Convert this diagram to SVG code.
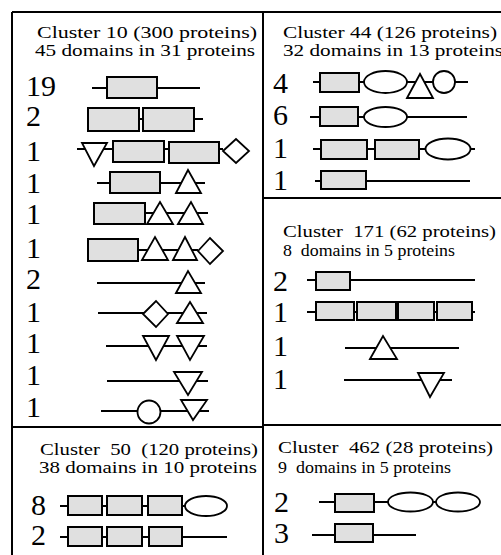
<svg xmlns="http://www.w3.org/2000/svg" width="501" height="555" viewBox="0 0 501 555">
<style>
.bg{fill:#fff}
.fr{stroke:#000;stroke-width:2;fill:none}
.bb{stroke:#000;stroke-width:2;fill:none}
.d{stroke:#000;stroke-width:2;fill:#e0e0e0}
.s{stroke:#000;stroke-width:1.8;fill:#fff}
.h{font-family:"Liberation Serif","Times New Roman",serif;font-size:17px;fill:#000}
.n{font-family:"Liberation Serif","Times New Roman",serif;font-size:30px;fill:#000}
</style>
<rect class="bg" x="0" y="0" width="501" height="555"/>
<g id="frame">
<path class="fr" d="M12 12H501M12 12V555M263 12V555M12 427H263M263 198H501M263 425H501"/>
</g>
<g id="connectors"></g>

<g id="cluster10">
<text class="h" x="37" y="38" textLength="220" lengthAdjust="spacingAndGlyphs">Cluster 10 (300 proteins)</text>
<text class="h" x="35" y="55.5" textLength="220" lengthAdjust="spacingAndGlyphs">45 domains in 31 proteins</text>
<g id="c10r1"><text class="n" x="26" y="96">19</text><path class="bb" d="M92 88H200"/><rect class="d" x="107" y="77" width="50" height="21"/></g>
<g id="c10r2"><text class="n" x="26" y="126">2</text><path class="bb" d="M88 119H203"/><rect class="d" x="88" y="108" width="51" height="23"/><rect class="d" x="143" y="108" width="51" height="23"/></g>
<g id="c10r3"><text class="n" x="26" y="161">1</text><path class="bb" d="M77 149H223"/><polygon class="s" points="82,143 107,143 94,166"/><rect class="d" x="113" y="141" width="51" height="21"/><rect class="d" x="169" y="142" width="50" height="21"/><polygon class="s" points="223,151 236,139 249,151 236,163"/></g>
<g id="c10r4"><text class="n" x="26" y="193">1</text><path class="bb" d="M97 183H205"/><rect class="d" x="110" y="172" width="50" height="21"/><polygon class="s" points="176,193 188,170 201,193"/></g>
<g id="c10r5"><text class="n" x="26" y="224">1</text><path class="bb" d="M94 213H208"/><rect class="d" x="94" y="203" width="51" height="21"/><polygon class="s" points="147,224 160,202 173,224"/><polygon class="s" points="178,224 191,202 203,224"/></g>
<g id="c10r6"><text class="n" x="26" y="258">1</text><path class="bb" d="M138 250H198"/><rect class="d" x="88" y="239" width="50" height="22"/><polygon class="s" points="142,260 155,237 168,260"/><polygon class="s" points="173,260 185,237 197,260"/><polygon class="s" points="198,251 210,238 223,251 210,264"/></g>
<g id="c10r7"><text class="n" x="26" y="289">2</text><path class="bb" d="M97 283H205"/><polygon class="s" points="176,293 188,271 201,293"/></g>
<g id="c10r8"><text class="n" x="26" y="322">1</text><path class="bb" d="M98 313H207"/><polygon class="s" points="143,314 156,301 168,314 156,327"/><polygon class="s" points="177,323 190,302 203,323"/></g>
<g id="c10r9"><text class="n" x="26" y="353">1</text><path class="bb" d="M106 346H207"/><polygon class="s" points="143,336 169,336 156,360"/><polygon class="s" points="177,336 204,336 190,360"/></g>
<g id="c10r10"><text class="n" x="26" y="385">1</text><path class="bb" d="M107 381H208"/><polygon class="s" points="174,372 202,372 188,395"/></g>
<g id="c10r11"><text class="n" x="26" y="417">1</text><path class="bb" d="M101 411H209"/><circle class="s" cx="149" cy="412" r="11.5"/><polygon class="s" points="181,400 207,400 193,420"/></g>
</g>

<g id="cluster50">
<text class="h" x="40" y="455" textLength="218" lengthAdjust="spacingAndGlyphs" xml:space="preserve">Cluster  50  (120 proteins)</text>
<text class="h" x="39" y="473" textLength="218" lengthAdjust="spacingAndGlyphs">38 domains in 10 proteins</text>
<g id="c50r1"><text class="n" x="31" y="515">8</text><path class="bb" d="M60 506H190"/><rect class="d" x="68" y="496" width="34" height="19"/><rect class="d" x="107" y="496" width="35" height="19"/><rect class="d" x="148" y="496" width="34" height="19"/><ellipse class="s" cx="206" cy="506" rx="21" ry="10"/></g>
<g id="c50r2"><text class="n" x="31" y="545">2</text><path class="bb" d="M60 537H227"/><rect class="d" x="68" y="527" width="34" height="19"/><rect class="d" x="107" y="527" width="35" height="19"/><rect class="d" x="149" y="527" width="33" height="19"/></g>
</g>

<g id="cluster44">
<text class="h" x="283" y="38" textLength="214" lengthAdjust="spacingAndGlyphs">Cluster 44 (126 proteins)</text>
<text class="h" x="283" y="55.5" textLength="220" lengthAdjust="spacingAndGlyphs">32 domains in 13 proteins</text>
<g id="c44r1"><text class="n" x="273" y="93">4</text><path class="bb" d="M313 82H468"/><rect class="d" x="320" y="73" width="39" height="19"/><ellipse class="s" cx="385.5" cy="82" rx="21.5" ry="11"/><polygon class="s" points="407,98 420,74 433,98"/><circle class="s" cx="444" cy="82" r="11"/></g>
<g id="c44r2"><text class="n" x="273" y="125">6</text><path class="bb" d="M310 117H467"/><rect class="d" x="320" y="107" width="38" height="19"/><ellipse class="s" cx="385.5" cy="117" rx="21.5" ry="10"/></g>
<g id="c44r3"><text class="n" x="273" y="158">1</text><path class="bb" d="M313 149H475"/><rect class="d" x="321" y="140" width="46" height="19"/><rect class="d" x="375" y="140" width="44" height="19"/><ellipse class="s" cx="448" cy="149" rx="22.5" ry="10.5"/></g>
<g id="c44r4"><text class="n" x="273" y="190">1</text><path class="bb" d="M315 181H470"/><rect class="d" x="321" y="171" width="45" height="18"/></g>
</g>

<g id="cluster171">
<text class="h" x="283" y="237" textLength="213" lengthAdjust="spacingAndGlyphs" xml:space="preserve">Cluster  171 (62 proteins)</text>
<text class="h" x="283" y="256" textLength="172" lengthAdjust="spacingAndGlyphs" xml:space="preserve">8  domains in 5 proteins</text>
<g id="c171r1"><text class="n" x="273" y="291">2</text><path class="bb" d="M307 280H475"/><rect class="d" x="316" y="272" width="34" height="18"/></g>
<g id="c171r2"><text class="n" x="273" y="322">1</text><path class="bb" d="M307 312H475"/><rect class="d" x="316" y="302" width="38" height="18"/><rect class="d" x="357" y="302" width="39" height="18"/><rect class="d" x="398" y="302" width="36" height="18"/><rect class="d" x="437" y="302" width="35" height="18"/></g>
<g id="c171r3"><text class="n" x="273" y="356">1</text><path class="bb" d="M345 348H459"/><polygon class="s" points="370,359 383,336 397,359"/></g>
<g id="c171r4"><text class="n" x="273" y="389">1</text><path class="bb" d="M344 380H452"/><polygon class="s" points="418,373 444,373 430,397"/></g>
</g>

<g id="cluster462">
<text class="h" x="278" y="453" textLength="215" lengthAdjust="spacingAndGlyphs" xml:space="preserve">Cluster  462 (28 proteins)</text>
<text class="h" x="278" y="473" textLength="173" lengthAdjust="spacingAndGlyphs" xml:space="preserve">9  domains in 5 proteins</text>
<g id="c462r1"><text class="n" x="274" y="512">2</text><path class="bb" d="M319 502H440"/><rect class="d" x="335" y="494" width="39" height="18"/><ellipse class="s" cx="410.5" cy="502" rx="22.5" ry="9.5"/><ellipse class="s" cx="458" cy="502" rx="22" ry="9.5"/></g>
<g id="c462r2"><text class="n" x="274" y="543">3</text><path class="bb" d="M312 535H416"/><rect class="d" x="335" y="524" width="38" height="18"/></g>
</g>
</svg>
